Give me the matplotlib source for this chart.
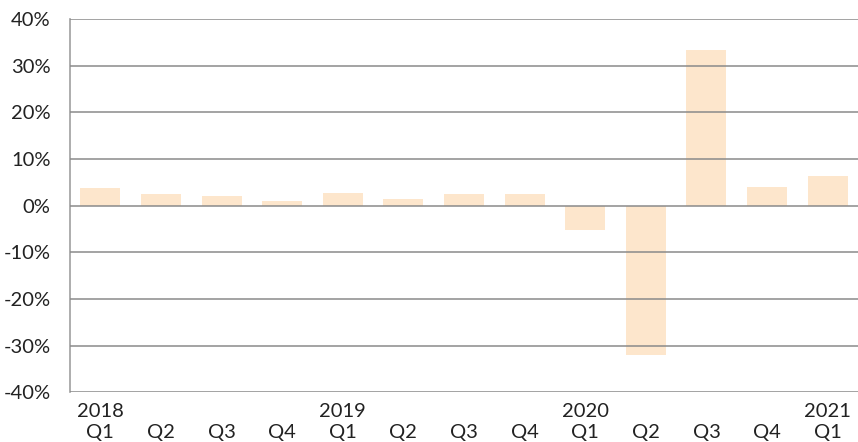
import matplotlib.pyplot as plt
from matplotlib.ticker import FuncFormatter

quarters = ["2018\nQ1", "\nQ2", "\nQ3", "\nQ4", "2019\nQ1", "\nQ2", "\nQ3", "\nQ4",
            "2020\nQ1", "\nQ2", "\nQ3", "\nQ4", "2021\nQ1"]
growth = [3.7, 2.4, 2.0, 1.1, 2.7, 1.35, 2.4, 2.4, -5.3, -32.1, 33.3, 4.1, 6.3]
yticks = [-40, -30, -20, -10, 0, 10, 20, 30, 40]

plt.rcParams['font.family'] = ['Lato', 'DejaVu Sans']

fig = plt.figure(figsize=(8.58, 4.42), dpi=100)
ax = fig.add_axes([70 / 858, 1 - 392.3 / 442, 1 - 70 / 858, (392.3 - 19) / 442])

x = list(range(len(growth)))
ax.bar(x, growth, width=0.66, color="#fde6cc", zorder=1)

ax.set_ylim(-40, 40)
ax.set_xlim(-0.5, len(growth) - 0.5)
ax.set_yticks(yticks)
ax.yaxis.set_major_formatter(FuncFormatter(lambda v, p: f"{v:.0f}%"))
ax.grid(axis="y", color="#8a8a8a", linewidth=1.1, zorder=2)
ax.set_axisbelow(False)

ax.set_xticks(x)
ax.set_xticklabels(quarters, linespacing=1.25)
ax.tick_params(axis="both", length=0, labelsize=14.5, colors="#222222")
ax.tick_params(axis="y", pad=14)
ax.tick_params(axis="x", pad=8)

for s in ["top", "right", "bottom"]:
    ax.spines[s].set_visible(False)
ax.spines["left"].set_color("#a0a0a0")
ax.spines["left"].set_linewidth(1.2)

fig.savefig("out.png", dpi=100)
